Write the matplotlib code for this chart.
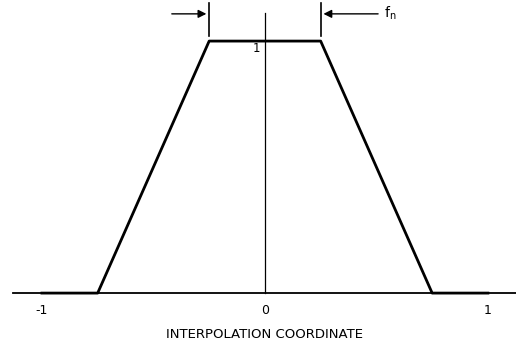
import matplotlib.pyplot as plt

# trapezoid interpolation kernel
x = [-1.0, -0.75, -0.25, 0.25, 0.75, 1.0]
y = [0.0, 0.0, 1.0, 1.0, 0.0, 0.0]

tick_pos = [-1, 0, 1]
tick_labels = ['-1', '0', '1']
fn_edges = [-0.25, 0.25]

fig = plt.figure(figsize=(5.16, 3.46), dpi=100)
ax = fig.add_axes([0, 0, 1, 1])
ax.set_xlim(-1.188, 1.126)
ax.set_ylim(-0.21, 1.163)
ax.axis('off')

# baseline and center line
ax.plot([-1.13, 1.126], [0, 0], color='black', lw=1.3)
ax.plot([0, 0], [0, 1.11], color='black', lw=0.9)

# kernel
ax.plot(x, y, color='black', lw=2)

# f_n markers
for e in fn_edges:
    ax.plot([e, e], [1.02, 1.15], color='black', lw=1.2)
ax.annotate('', xy=(fn_edges[0], 1.108), xytext=(fn_edges[0] - 0.18, 1.108),
            arrowprops=dict(arrowstyle='-|>', color='black', lw=1, mutation_scale=12))
ax.annotate('', xy=(fn_edges[1], 1.108), xytext=(fn_edges[1] + 0.27, 1.108),
            arrowprops=dict(arrowstyle='-|>', color='black', lw=1, mutation_scale=12))
ax.text(fn_edges[1] + 0.285, 1.11, '$\\mathregular{f_n}$', fontsize=10, va='center', ha='left')

ax.text(-0.02, 0.97, '1', fontsize=8.5, ha='right', va='center')

for p, l in zip(tick_pos, tick_labels):
    ax.text(p, -0.07, l, fontsize=9, ha='center', va='center')

ax.text(0, -0.165, 'INTERPOLATION COORDINATE', fontsize=9.5, ha='center', va='center')

fig.savefig('out.png', dpi=100)
